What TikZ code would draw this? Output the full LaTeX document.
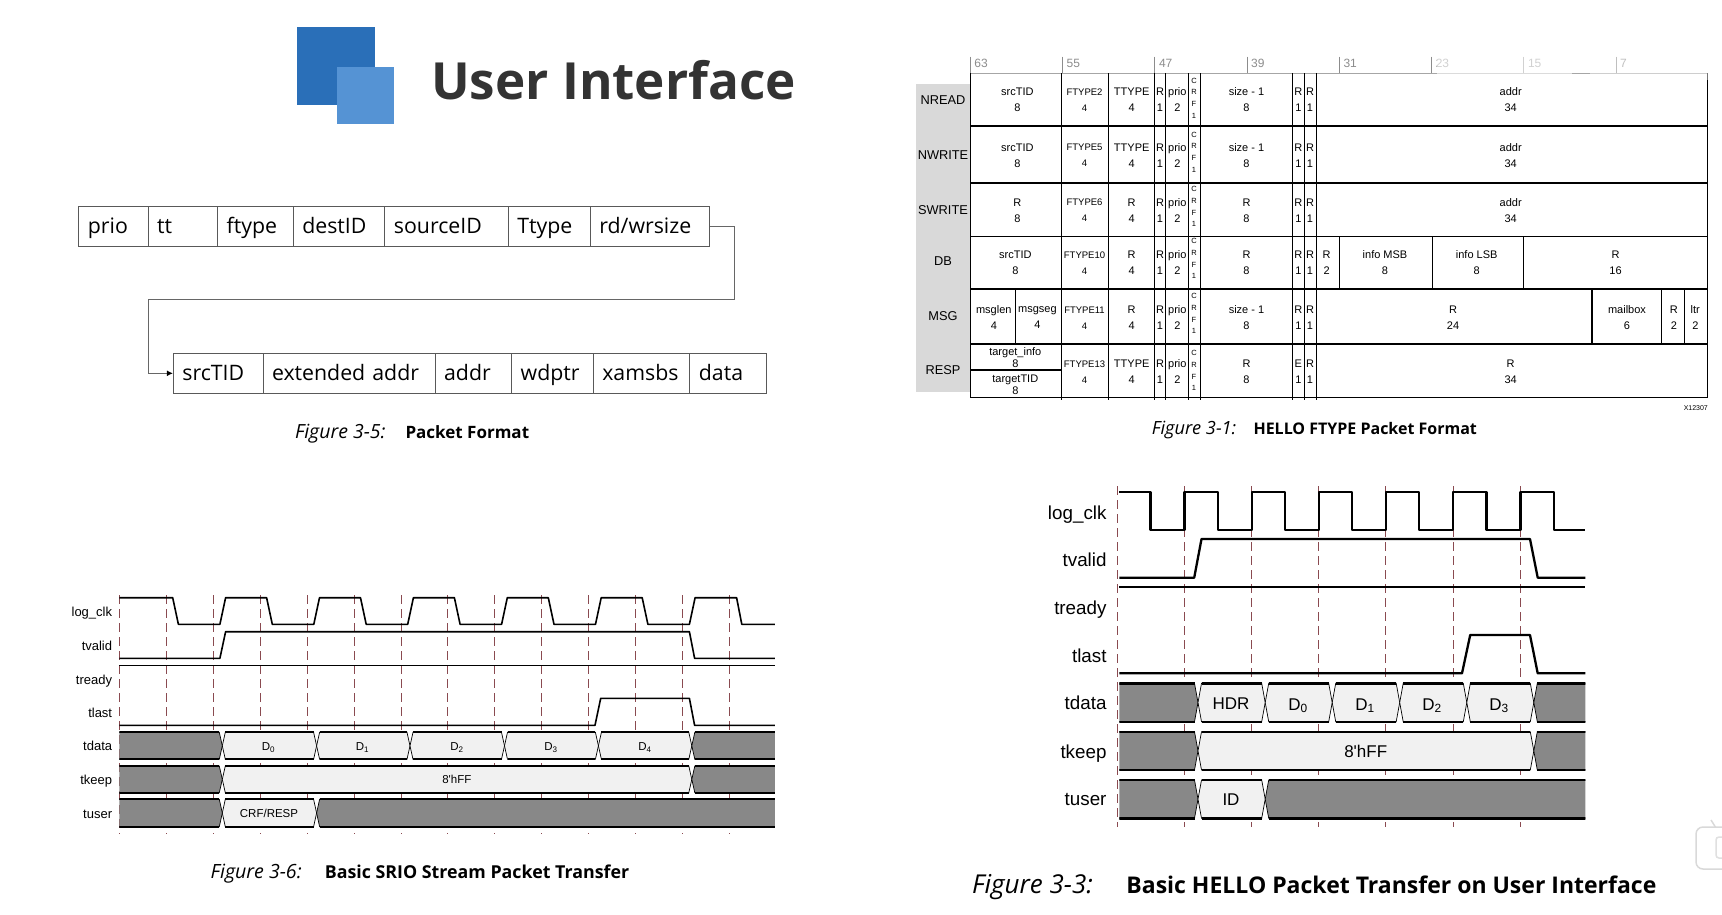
\documentclass[tikz,border=0pt]{standalone}
\usepackage{fontspec}
\setmainfont{Liberation Sans}
\newfontfamily\capfont{Open Sans}
\usetikzlibrary{arrows.meta}
\definecolor{logodark}{HTML}{2A6FB8}
\definecolor{logolight}{HTML}{5593D4}
\definecolor{titlegray}{HTML}{333333}
\definecolor{dashred}{HTML}{8A4A50}
\definecolor{busdark}{HTML}{888888}
\definecolor{buslight}{HTML}{F1F1F1}
\definecolor{bandgray}{HTML}{D9D9D9}
\newcommand{\busseg}[5]{%
  \draw[line width=.7pt,fill=#5] (#1,{(#3+#4)/2}) -- (#1+\bushalf,#3) -- (#2-\bushalf,#3)
    -- (#2,{(#3+#4)/2}) -- (#2-\bushalf,#4) -- (#1+\bushalf,#4) -- cycle;
  \draw[line width=\busline] (#1+\bushalf,#3) -- (#2-\bushalf,#3) (#1+\bushalf,#4) -- (#2-\bushalf,#4);}
\begin{document}
\begin{tikzpicture}[x=1pt,y=-1pt,
    pktbox/.style={draw=black!65, line width=1pt, anchor=west, minimum height=39.5pt, inner xsep=9pt,
      text width=#1pt, align=left, text height=17.2pt, text depth=3pt, font=\capfont\fontsize{21.3}{24}\selectfont},
    link/.style={draw=black!60, line width=1.2pt},
    capa/.style={anchor=mid west, inner sep=0pt, yshift=-4pt, font=\capfont\itshape\fontsize{#1}{20}\selectfont},
    capb/.style={anchor=mid west, inner sep=0pt, yshift=-4pt, font=\capfont\bfseries\fontsize{#1}{20}\selectfont},
    cellt/.style={align=center, inner sep=0pt, yshift=-1pt, font=\fontsize{11}{16}\selectfont},
    cellf/.style={align=center, inner sep=0pt, yshift=-1pt, font=\fontsize{9.5}{16}\selectfont},
    cellc/.style={align=center, inner sep=0pt, font=\fontsize{7.5}{11.6}\selectfont},
    rowlab/.style={inner sep=0pt, yshift=-.8pt, font=\fontsize{12.8}{14}\selectfont},
    gridv/.style={line width=1.1pt},
    gridh/.style={line width=1.6pt},
    bitlab/.style={anchor=mid west, inner sep=0pt, yshift=-2.5pt, text=black!45, font=\fontsize{12}{14}\selectfont},
    dasha/.style={draw=dashred, line width=1pt, dash pattern=on 9pt off 5pt},
    wavea/.style={line width=1.6pt, line join=round},
    waveb/.style={line width=2.3pt, line join=round},
    siga/.style={anchor=mid east, inner sep=0pt, yshift=-2.2pt, font=\fontsize{13}{15}\selectfont},
    sigb/.style={anchor=mid east, inner sep=0pt, yshift=-4pt, font=\fontsize{18.8}{21}\selectfont},
    vala/.style={anchor=mid, inner sep=0pt, yshift=-2.2pt, font=\fontsize{11.5}{14}\selectfont},
    valb/.style={anchor=mid, inner sep=0pt, yshift=-3.5pt, font=\fontsize{17}{20}\selectfont}]
  \useasboundingbox (0,0) rectangle (1722,914);

  % Logo and title
  \fill[logodark] (297.3,27.3) rectangle (375.4,105.3);
  \fill[logolight] (337,66.7) rectangle (393.8,123.7);
  \node[anchor=base west, inner sep=0pt, text=titlegray, font=\capfont\bfseries\fontsize{51.2}{60}\selectfont] (title) at (431,99.3) {User Interface};

  % Packet format, first row
  \node[pktbox=51.2] (prio) at (78.4,226.3) {prio};
  \node[pktbox=51.6] (tt) at (147.6,226.3) {tt};
  \node[pktbox=57.6] (ftype) at (217.2,226.3) {ftype};
  \node[pktbox=73.6] (destid) at (292.8,226.3) {destID};
  \node[pktbox=105.4] (sourceid) at (384.4,226.3) {sourceID};
  \node[pktbox=64.1] (ttype) at (507.8,226.3) {Ttype};
  \node[pktbox=101.4] (rdwr) at (589.9,226.3) {rd/wrsize};

  % Packet format, second row
  \node[pktbox=71.6] (srctid) at (172.9,373.3) {srcTID};
  \node[pktbox=154.1] (extaddr) at (262.5,373.3) {extended addr};
  \node[pktbox=58.6] (addr) at (434.6,373.3) {addr};
  \node[pktbox=63.6] (wdptr) at (511.2,373.3) {wdptr};
  \node[pktbox=78.6] (xamsbs) at (592.8,373.3) {xamsbs};
  \node[pktbox=58.1] (data) at (689.4,373.3) {data};

  \coordinate (turnr) at (734.1,299.3);
  \coordinate (turnl) at (148.6,299.3);
  \draw[link, -{Latex[black,length=6pt,width=6pt]}] (rdwr.east) -| (turnr) -- (turnl) |- (srctid.west);

  \node[capa=19.5] (cap5a) at (294.8,432.3) {Figure 3-5:};
  \node[capb=17] (cap5b) at (405.3,432.3) {Packet Format};

  % HELLO format table
  \fill[bandgray] (915.7,84) rectangle (970.2,392.3);
  \draw[line width=1.5pt, black!35] (970.2,73.3) -- (1707.9,73.3);
  \foreach \tx/\bit in {970.2/63,1062.5/55,1154.8/47,1247/39,1339.3/31,1431.6/23,1523.8/15,1616/7} {
    \draw[line width=.8pt, black!45] (\tx,56.7) -- (\tx,73.3);
    \node[bitlab] (bit\bit) at (\tx+4,62) {\bit};
  }
  \foreach \gy in {126,182.7,236.3,288.7,344,397.3}
    \draw[gridh] (970.2,\gy) -- (1707.9,\gy);
  \foreach \gx in {1061.5,1108.6,1154.8,1165.8,1188.3,1200.4,1292.7,1304.7,1316.3}
    \draw[gridv] (\gx,73.3) -- (\gx,400);
  \draw[gridv] (970.2,73.3) -- (970.2,397.3);
  \draw[gridv] (1707.9,73.3) -- (1707.9,397.3);
  \foreach \gx in {1339.3,1432.1,1523.3}
    \draw[gridv] (\gx,236.3) -- (\gx,288.7);
  \draw[gridv] (1015.9,288.7) -- (1015.9,344);
  \foreach \gx in {1592,1661.7,1684.8}
    \draw[gridv] (\gx,288.7) -- (\gx,344);
  \draw[gridh] (970.2,370) -- (1061.5,370);

  % Haze over the top right corner
  \fill[white, opacity=.6] (1437,42) rectangle (1572,76);
  \fill[white, opacity=.45] (1590,25) rectangle (1722,80);

  % Columns that every row has
  \foreach \rw/\cy/\cc in {nread/98.7/98,nwrite/154.7/152,swrite/209.3/206.7,db/262/258.7,msg/317/313.7,resp/370.7/370.7} {
    \node[cellt] (\rw r) at (1160,\cy) {R\\1};
    \node[cellt] (\rw prio) at (1177.3,\cy) {prio\\2};
    \node[cellc] (\rw crf) at (1194,\cc) {C\\R\\F\\1};
    \node[cellt] (\rw rb) at (1310,\cy) {R\\1};
  }
  \foreach \rw/\cy/\ltr in {nread/98.7/R,nwrite/154.7/R,swrite/209.3/R,db/262/R,msg/317/R,resp/370.7/E}
    \node[cellt] (\rw ra) at (1298.4,\cy) {\ltr\\1};

  % Rows
  \node[rowlab] (nread) at (943,99.3) {NREAD};
  \node[cellt] (nreadsrc) at (1017.4,98.7) {srcTID\\8};
  \node[cellf] (nreadft) at (1084.5,98.7) {FTYPE2\\4};
  \node[cellt] (nreadtt) at (1131.7,98.7) {TTYPE\\4};
  \node[cellt] (nreadsz) at (1246.5,98.7) {size - 1\\8};
  \node[cellt] (nreadad) at (1510.7,98.7) {addr\\34};

  \node[rowlab] (nwrite) at (943,154) {NWRITE};
  \node[cellt] (nwritesrc) at (1017.4,154.7) {srcTID\\8};
  \node[cellf] (nwriteft) at (1084.5,154.7) {FTYPE5\\4};
  \node[cellt] (nwritett) at (1131.7,154.7) {TTYPE\\4};
  \node[cellt] (nwritesz) at (1246.5,154.7) {size - 1\\8};
  \node[cellt] (nwritead) at (1510.7,154.7) {addr\\34};

  \node[rowlab] (swrite) at (943,209) {SWRITE};
  \node[cellt] (swritesrc) at (1017.4,209.3) {R\\8};
  \node[cellf] (swriteft) at (1084.5,209.3) {FTYPE6\\4};
  \node[cellt] (swritett) at (1131.7,209.3) {R\\4};
  \node[cellt] (swritesz) at (1246.5,209.3) {R\\8};
  \node[cellt] (swritead) at (1510.7,209.3) {addr\\34};

  \node[rowlab] (db) at (943,260) {DB};
  \node[cellt] (dbsrc) at (1015.3,262) {srcTID\\8};
  \node[cellf] (dbft) at (1084.5,262) {FTYPE10\\4};
  \node[cellt] (dbtt) at (1131.7,262) {R\\4};
  \node[cellt] (dbsz) at (1246.5,262) {R\\8};
  \node[cellt] (dbrc) at (1326.7,262) {R\\2};
  \node[cellt] (dbmsb) at (1385,262) {info MSB\\8};
  \node[cellt] (dblsb) at (1476.7,262) {info LSB\\8};
  \node[cellt] (dbres) at (1615.6,262) {R\\16};

  \node[rowlab] (msg) at (943,315) {MSG};
  \node[cellt] (msglen) at (993.8,317) {msglen\\4};
  \node[cellt] (msgseg) at (1037.4,317) {msgseg\\4};
  \node[cellf] (msgft) at (1084.5,317) {FTYPE11\\4};
  \node[cellt] (msgtt) at (1131.7,317) {R\\4};
  \node[cellt] (msgsz) at (1246.5,317) {size - 1\\8};
  \node[cellt] (msgres) at (1453,317) {R\\24};
  \node[cellt] (msgbox) at (1627,317) {mailbox\\6};
  \node[cellt] (msgrc) at (1673.8,317) {R\\2};
  \node[cellt] (msgltr) at (1695.3,317) {ltr\\2};

  \node[rowlab] (resp) at (943,369) {RESP};
  \node[cellt, font=\fontsize{11}{12}\selectfont] (respinfo) at (1015.3,356.3) {target\_info\\8};
  \node[cellt, font=\fontsize{11}{12}\selectfont] (resptid) at (1015.3,383.3) {targetTID\\8};
  \node[cellf] (respft) at (1084.5,370.7) {FTYPE13\\4};
  \node[cellt] (resptt) at (1131.7,370.7) {TTYPE\\4};
  \node[cellt] (respsz) at (1246.5,370.7) {R\\8};
  \node[cellt] (respres) at (1510.7,370.7) {R\\34};

  \node[inner sep=0pt, font=\fontsize{7}{8}\selectfont] (partno) at (1695.8,408.3) {X12307};
  \node[capa=18.2] (cap1a) at (1151.6,427.7) {Figure 3-1:};
  \node[capb=16] (cap1b) at (1253.3,427.7) {HELLO FTYPE Packet Format};

  % SRIO stream timing
  \foreach \k in {0,...,13}
    \draw[dasha] ({119.4+46.94*\k},595) -- ({119.4+46.94*\k},833.3);
  \foreach \nm/\lbl/\sy in {clk/log\_clk/612,valid/tvalid/646,ready/tready/679.3,last/tlast/712.7,data/tdata/745.7,keep/tkeep/780,user/tuser/813.3}
    \node[siga] (a\nm) at (112.3,\sy) {\lbl};
  \draw[wavea] (119.4,597.7) \foreach \k in {0,...,5} {
      -- ({172.7+93.9*\k},597.7) -- ({178.4+93.9*\k},624.3)
      -- ({219.9+93.9*\k},624.3) -- ({225.6+93.9*\k},597.7)}
    -- (736.6,597.7) -- (741.8,624.3) -- (774.9,624.3);
  \draw[wavea] (119.4,658.3) -- (219.9,658.3) -- (225.6,631.7) -- (689.4,631.7) -- (694.6,658.3) -- (774.9,658.3);
  \draw[wavea] (119.4,665.3) -- (774.9,665.3);
  \draw[wavea] (119.4,725.3) -- (595,725.3) -- (600.7,698.3) -- (689.4,698.3) -- (694.6,725.3) -- (774.9,725.3);
  \begin{scope}
    \clip (119.4,728) rectangle (774.9,835);
    \def\bushalf{3}
    \def\busline{1.8pt}
    \busseg{100}{222.3}{732.3}{759.3}{busdark}
    \foreach \xa/\xb in {222.3/316.6,316.6/410,410/504.5,504.5/598.4,598.4/691.8} {
      \busseg{\xa}{\xb}{732.3}{759.3}{buslight}
    }
    \busseg{691.8}{800}{732.3}{759.3}{busdark}
    \busseg{100}{222.3}{766}{792.7}{busdark}
    \busseg{222.3}{691.8}{766}{792.7}{buslight}
    \busseg{691.8}{800}{766}{792.7}{busdark}
    \busseg{100}{222.3}{799.3}{826.7}{busdark}
    \busseg{222.3}{316.6}{799.3}{826.7}{buslight}
    \busseg{316.6}{800}{799.3}{826.7}{busdark}
  \end{scope}
  \node[vala] (ad0) at (268.5,745.8) {D\textsubscript{0}};
  \node[vala] (ad1) at (362.5,745.8) {D\textsubscript{1}};
  \node[vala] (ad2) at (457,745.8) {D\textsubscript{2}};
  \node[vala] (ad3) at (551,745.8) {D\textsubscript{3}};
  \node[vala] (ad4) at (645,745.8) {D\textsubscript{4}};
  \node[vala] (akeep) at (456.8,778.5) {8\textquotesingle hFF};
  \node[vala] (auser) at (269,813) {CRF/RESP};
  \node[capa=19.6] (cap6a) at (210.5,871.7) {Figure 3-6:};
  \node[capb=17.8] (cap6b) at (324.7,871.7) {Basic SRIO Stream Packet Transfer};

  % HELLO timing
  \foreach \k in {0,...,6}
    \draw[dasha] ({1117+67.2*\k},486) -- ({1117+67.2*\k},827.3);
  \foreach \nm/\lbl/\sy in {clk/log\_clk/512.7,valid/tvalid/560,ready/tready/607.7,last/tlast/655.7,data/tdata/703.3,keep/tkeep/751.7,user/tuser/799.3}
    \node[sigb] (b\nm) at (1106.7,\sy) {\lbl};
  \draw[waveb] (1119.4,491.7) \foreach \k in {0,...,5} {
      -- ({1150.5+67.2*\k},491.7) -- ({1150.5+67.2*\k},530)
      -- ({1184.5+67.2*\k},530) -- ({1184.5+67.2*\k},491.7)}
    -- (1553.8,491.7) -- (1553.8,530) -- (1585.4,530);
  \draw[waveb] (1119.4,577.7) -- (1194.2,577.7) -- (1201.5,539) -- (1530,539) -- (1537.7,577.7) -- (1585.4,577.7);
  \draw[waveb] (1119.4,587.3) -- (1585.4,587.3);
  \draw[waveb] (1119.4,673.3) -- (1462,673.3) -- (1470.2,635) -- (1530,635) -- (1537.7,673.3) -- (1585.4,673.3);
  \begin{scope}
    \clip (1119.4,678) rectangle (1585.4,825);
    \def\bushalf{3.5}
    \def\busline{2.4pt}
    \busseg{1100}{1198}{683.3}{721.7}{busdark}
    \foreach \xa/\xb in {1198/1265.2,1265.2/1332.2,1332.2/1399.7,1399.7/1466.8,1466.8/1533.8} {
      \busseg{\xa}{\xb}{683.3}{721.7}{buslight}
    }
    \busseg{1533.8}{1600}{683.3}{721.7}{busdark}
    \busseg{1100}{1198}{731.7}{770}{busdark}
    \busseg{1198}{1533.8}{731.7}{770}{buslight}
    \busseg{1533.8}{1600}{731.7}{770}{busdark}
    \busseg{1100}{1198}{780}{818.3}{busdark}
    \busseg{1198}{1265.2}{780}{818.3}{buslight}
    \busseg{1265.2}{1600}{780}{818.3}{busdark}
  \end{scope}
  \node[valb] (bhdr) at (1231,703) {HDR};
  \node[valb] (bd0) at (1298,704) {D\textsubscript{0}};
  \node[valb] (bd1) at (1365,704) {D\textsubscript{1}};
  \node[valb] (bd2) at (1432,704) {D\textsubscript{2}};
  \node[valb] (bd3) at (1499,704) {D\textsubscript{3}};
  \node[valb] (bkeep) at (1365.7,751.5) {8\textquotesingle hFF};
  \node[valb] (buser) at (1231,799.3) {ID};
  \node[capa=26] (cap3a) at (972,887) {Figure 3-3:};
  \node[capb=23] (cap3b) at (1126.2,887) {Basic HELLO Packet Transfer on User Interface};

  % Corner badge
  \draw[black!15, line width=1.5pt] (1711,820) -- (1716,828);
  \draw[black!15, fill=white, rounded corners=7pt, line width=1.5pt] (1696,827) rectangle (1738,869);
  \draw[black!12, rounded corners=3pt, line width=1.5pt] (1730,837) -- (1716,837) -- (1716,858) -- (1730,858);
\end{tikzpicture}
\end{document}
